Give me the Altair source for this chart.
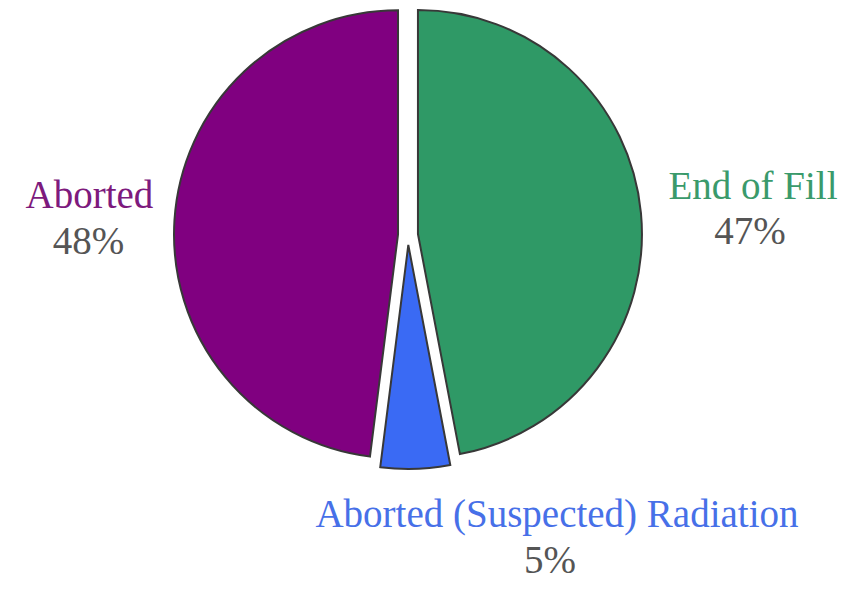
import altair as alt
import pandas as pd

categories = ["End of Fill", "Aborted (Suspected) Radiation", "Aborted"]
values = [47, 5, 48]
slice_colors = ["#2F9966", "#3A6AF4", "#800080"]
label_colors = ["#3A9A6B", "#4770E8", "#7D1A7D"]

df = pd.DataFrame({"category": categories, "value": values})

# layout constants (pixels in the plot area)
CX, CY, R, EXPLODE, LABEL_R = 400, 227, 224, 10, 330
FONT = "Liberation Serif"
FS = 39
name_dx = {"End of Fill": 16.5, "Aborted (Suspected) Radiation": 138.6, "Aborted": 10.8}
name_dy = {"End of Fill": -5, "Aborted (Suspected) Radiation": -38, "Aborted": -6.3}
pct_dx = {"End of Fill": -3, "Aborted (Suspected) Radiation": -7, "Aborted": -1}
pct_dy = {"End of Fill": 45, "Aborted (Suspected) Radiation": 46, "Aborted": 46}


def lookup_expr(d):
    expr = "0"
    for k, v in d.items():
        expr = f"datum.category === '{k}' ? {v} : ({expr})"
    return expr


base = alt.Chart(df).transform_joinaggregate(
    total="sum(value)"
).transform_window(
    cum="sum(value)", frame=[None, 0]
).transform_calculate(
    t0="(datum.cum - datum.value) / datum.total * 2 * PI",
    t1="datum.cum / datum.total * 2 * PI",
    mid="(datum.cum - datum.value / 2) / datum.total * 2 * PI",
    pct="format(datum.value / datum.total, '.0%')",
)

arcs = base.transform_calculate(
    px=f"{CX} + {EXPLODE} * sin(datum.mid)",
    py=f"{CY} - {EXPLODE} * cos(datum.mid)",
).mark_arc(outerRadius=R, stroke="#383838", strokeWidth=2).encode(
    x=alt.X("px:Q", scale=None, axis=None),
    y=alt.Y("py:Q", scale=None, axis=None),
    theta=alt.Theta("t0:Q", scale=None),
    theta2="t1:Q",
    color=alt.Color("category:N", scale=alt.Scale(domain=categories, range=slice_colors), legend=None),
)

lab = base.transform_calculate(
    lx=f"{CX} + {LABEL_R} * sin(datum.mid) + ({lookup_expr(name_dx)})",
    ly=f"{CY} - {LABEL_R} * cos(datum.mid) + ({lookup_expr(name_dy)})",
)

names = lab.mark_text(font=FONT, fontSize=FS, align="center", baseline="alphabetic").encode(
    x=alt.X("lx:Q", scale=None, axis=None),
    y=alt.Y("ly:Q", scale=None, axis=None),
    text="category:N",
    color=alt.Color("category:N", scale=alt.Scale(domain=categories, range=label_colors), legend=None),
)

pcts = lab.transform_calculate(
    px2=f"datum.lx + ({lookup_expr(pct_dx)})",
    py2=f"datum.ly + ({lookup_expr(pct_dy)})",
).mark_text(font=FONT, fontSize=FS, align="center", baseline="alphabetic", color="#555555").encode(
    x=alt.X("px2:Q", scale=None, axis=None),
    y=alt.Y("py2:Q", scale=None, axis=None),
    text="pct:N",
)

chart = alt.layer(arcs, names, pcts).resolve_scale(color="independent").properties(
    width=834, height=573, padding=0, autosize="none"
).configure_view(stroke=None)

chart.save("out.html", embed_options={"renderer": "svg", "actions": False})
